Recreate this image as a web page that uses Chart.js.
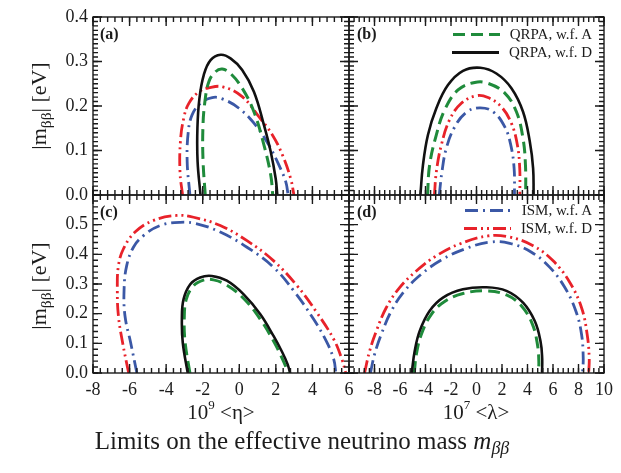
<!DOCTYPE html>
<html>
<head>
<meta charset="utf-8">
<script src="https://cdn.jsdelivr.net/npm/chart.js@4.4.1/dist/chart.umd.min.js"></script>
<style>
  html, body { margin:0; padding:0; background:#fff; }
  #wrap { position:relative; width:621px; height:473px; overflow:hidden; background:#fff;
          font-family:'Liberation Serif','Times New Roman',serif; color:#1c1c1c; }
  #wrap canvas { position:absolute; left:0; top:0; }
  .t { position:absolute; white-space:nowrap; line-height:1; }
  .ytitle { font-size:22px; transform:translate(-50%,-50%) rotate(-90deg); }
  .ytitle sub { font-size:0.7em; vertical-align:-0.35em; line-height:0; }
  .xtitle { font-size:21px; transform:translateX(-50%); }
  .xtitle sup { font-size:0.62em; vertical-align:0.75em; line-height:0; }
  .plabel { font-size:16px; font-weight:bold; }
  .leg { position:absolute; right:29px; display:flex; align-items:center; font-size:15px; line-height:1; transform:translateY(-50%); white-space:nowrap; }
  .leg svg { margin-right:10px; display:block; }
  #title { font-size:25px; transform:translateX(-50%); }
  #title sub { font-size:0.72em; vertical-align:-0.3em; line-height:0; }
</style>
</head>
<body>
<div id="wrap">
  <canvas id="cA" width="621" height="473"></canvas>
  <canvas id="cB" width="621" height="473"></canvas>
  <canvas id="cC" width="621" height="473"></canvas>
  <canvas id="cD" width="621" height="473"></canvas>

  <div class="t ytitle" style="left:39px;top:106px;">|m<sub>ββ</sub>| [eV]</div>
  <div class="t ytitle" style="left:39px;top:286px;">|m<sub>ββ</sub>| [eV]</div>

  <div class="t plabel" style="left:100px;top:26px;">(a)</div>
  <div class="t plabel" style="left:357px;top:26px;">(b)</div>
  <div class="t plabel" style="left:100px;top:204px;">(c)</div>
  <div class="t plabel" style="left:357px;top:204px;">(d)</div>

  <div id="legB"></div>
  <div id="legD"></div>

  <div class="t xtitle" style="left:221px;top:402px;">10<sup>9</sup> &lt;η&gt;</div>
  <div class="t xtitle" style="left:476px;top:402px;">10<sup>7</sup> &lt;λ&gt;</div>

  <div class="t" id="title" style="left:302px;top:428px;">Limits on the effective neutrino mass <i>m</i><sub><i>ββ</i></sub></div>
</div>

<script>
// ---------------- data ----------------
const etaTickLabels    = [-8, -6, -4, -2, 0, 2, 4, 6];
const lambdaTickLabels = [-8, -6, -4, -2, 0, 2, 4, 6, 8, 10];
const mTopTickLabels    = [0.0, 0.1, 0.2, 0.3, 0.4];
const mBottomTickLabels = [0.0, 0.1, 0.2, 0.3, 0.4, 0.5];
const seriesNames = ['QRPA, w.f. D', 'QRPA, w.f. A', 'ISM, w.f. A', 'ISM, w.f. D'];

// panel (a): 10^9 <eta>, [x, |m_bb|]
const a_qrpaD = [[-2.12,0],[-2.28,0.075],[-2.29,0.15],[-2.18,0.217],[-1.94,0.27],[-1.57,0.303],[-1.02,0.315],[-0.48,0.307],[0.16,0.281],[0.80,0.232],[1.35,0.157],[1.72,0.097],[1.99,0.037],[2.08,0]];
const a_qrpaA = [[-1.86,0],[-1.98,0.075],[-1.99,0.15],[-1.88,0.21],[-1.66,0.255],[-1.30,0.277],[-0.93,0.283],[-0.48,0.273],[0.16,0.24],[0.80,0.187],[1.35,0.112],[1.72,0.045],[1.83,0]];
const a_ismA  = [[-2.70,0],[-2.85,0.075],[-2.79,0.142],[-2.58,0.18],[-2.12,0.206],[-1.48,0.219],[-0.93,0.216],[-0.02,0.195],[0.89,0.157],[1.62,0.112],[2.17,0.067],[2.54,0.03],[2.67,0]];
const a_ismD  = [[-3.10,0],[-3.24,0.05],[-3.22,0.12],[-3.04,0.172],[-2.76,0.206],[-2.21,0.232],[-1.67,0.241],[-0.90,0.243],[0.16,0.221],[1.07,0.176],[1.81,0.135],[2.36,0.09],[2.81,0.037],[2.99,0]];

// panel (b): 10^7 <lambda>
const b_qrpaD = [[-4.40,0],[-4.20,0.067],[-3.81,0.135],[-3.15,0.195],[-2.24,0.247],[-1.06,0.279],[0.30,0.286],[1.56,0.273],[2.74,0.24],[3.65,0.187],[4.18,0.12],[4.44,0.06],[4.48,0]];
const b_qrpaA = [[-3.84,0],[-3.68,0.067],[-3.15,0.135],[-2.50,0.191],[-1.45,0.236],[-0.14,0.253],[0.90,0.251],[2.22,0.229],[3.13,0.187],[3.65,0.127],[3.84,0.067],[3.86,0]];
const b_ismA  = [[-2.92,0],[-2.71,0.052],[-2.37,0.105],[-1.71,0.153],[-0.79,0.186],[0.25,0.196],[1.30,0.187],[2.22,0.153],[2.69,0.112],[2.95,0.06],[2.98,0]];
const b_ismD  = [[-3.30,0],[-3.15,0.052],[-2.76,0.112],[-2.11,0.169],[-1.19,0.206],[-0.01,0.223],[0.90,0.219],[1.95,0.198],[2.74,0.161],[3.21,0.112],[3.39,0.06],[3.40,0]];

// panel (c): 10^9 <eta>
const c_qrpaD = [[-2.82,0],[-3.09,0.102],[-3.14,0.181],[-3.05,0.248],[-2.68,0.299],[-2.14,0.322],[-1.50,0.327],[-0.68,0.311],[0.24,0.265],[1.15,0.198],[1.88,0.124],[2.35,0.07],[2.64,0.03],[2.78,0]];
const c_qrpaA = [[-2.70,0],[-2.96,0.102],[-3.01,0.181],[-2.90,0.248],[-2.50,0.294],[-1.96,0.313],[-1.41,0.314],[-0.68,0.296],[0.24,0.251],[1.15,0.181],[1.88,0.107],[2.28,0.058],[2.54,0.022],[2.66,0]];
const c_ismA  = [[-5.60,0],[-5.94,0.102],[-6.25,0.192],[-6.30,0.282],[-6.16,0.361],[-5.79,0.424],[-5.24,0.463],[-4.33,0.497],[-3.23,0.508],[-2.32,0.503],[-1.04,0.475],[0.42,0.424],[1.88,0.356],[2.98,0.277],[4.07,0.181],[4.80,0.102],[5.17,0.045],[5.28,0]];
const c_ismD  = [[-6.05,0],[-6.38,0.102],[-6.61,0.192],[-6.67,0.282],[-6.61,0.361],[-6.34,0.418],[-5.70,0.475],[-4.70,0.514],[-3.42,0.531],[-2.50,0.525],[-1.04,0.497],[0.42,0.446],[1.88,0.378],[3.16,0.294],[4.25,0.203],[5.17,0.113],[5.62,0.045],[5.82,0]];

// panel (d): 10^7 <lambda>
const d_qrpaD = [[-5.08,0],[-4.85,0.073],[-4.46,0.141],[-3.68,0.209],[-2.63,0.254],[-1.06,0.282],[0.78,0.289],[2.35,0.277],[3.65,0.237],[4.57,0.175],[5.02,0.107],[5.15,0.051],[5.14,0]];
const d_qrpaA = [[-4.88,0],[-4.72,0.062],[-4.33,0.13],[-3.54,0.198],[-2.50,0.241],[-1.06,0.268],[0.78,0.277],[2.35,0.263],[3.53,0.226],[4.39,0.164],[4.78,0.096],[4.89,0.039],[4.86,0]];
const d_ismA  = [[-8.32,0],[-8.00,0.062],[-7.47,0.13],[-6.68,0.209],[-5.64,0.277],[-4.33,0.333],[-2.76,0.381],[-0.93,0.418],[1.04,0.441],[2.61,0.437],[4.31,0.407],[5.75,0.356],[6.93,0.288],[7.79,0.209],[8.24,0.13],[8.37,0.051],[8.32,0]];
const d_ismD  = [[-8.78,0],[-8.39,0.073],[-7.86,0.141],[-7.08,0.22],[-6.03,0.288],[-4.72,0.344],[-3.15,0.395],[-1.32,0.435],[0.90,0.462],[2.61,0.458],[4.44,0.429],[6.01,0.378],[7.32,0.305],[8.24,0.22],[8.68,0.13],[8.84,0.051],[8.80,0]];

// ---------------- styles ----------------
const FONT = "'Liberation Serif','Times New Roman',serif";
const styles = {
  'QRPA, w.f. A': { color:'#1f8b3b', dash:[12,6],             width:3.0 },
  'QRPA, w.f. D': { color:'#111111', dash:[],                 width:2.6 },
  'ISM, w.f. A':  { color:'#3b58a6', dash:[13,5,2,5],         width:2.8 },
  'ISM, w.f. D':  { color:'#e8222a', dash:[13,4,2,4,2,4],     width:2.8 }
};

// frame + inward major/minor ticks on all four sides, placed through the chart's scales
function makeFrameTicks(t) {
  return {
    id: 'frameTicks',
    afterDraw(chart) {
      const ctx = chart.ctx, a = chart.chartArea;
      const xs = chart.scales.x, ys = chart.scales.y;
      ctx.save();
      ctx.setLineDash([]);
      ctx.strokeStyle = '#1a1a1a';
      ctx.lineWidth = 1.4;
      const draw = (horiz, step, len) => {
        const lo = horiz ? t.xmin : t.ymin, hi = horiz ? t.xmax : t.ymax;
        const n = Math.round((hi - lo) / step);
        for (let i = 0; i <= n; i++) {
          const v = lo + i * step;
          ctx.beginPath();
          if (horiz) {
            const p = xs.getPixelForValue(v);
            ctx.moveTo(p, a.bottom); ctx.lineTo(p, a.bottom - len);
            ctx.moveTo(p, a.top);    ctx.lineTo(p, a.top + len);
          } else {
            const p = ys.getPixelForValue(v);
            ctx.moveTo(a.left, p);  ctx.lineTo(a.left + len, p);
            ctx.moveTo(a.right, p); ctx.lineTo(a.right - len, p);
          }
          ctx.stroke();
        }
      };
      draw(true, t.xMinor, 5);
      draw(true, t.xMajor, 9);
      draw(false, t.yMinor, 5);
      draw(false, t.yMajor, 9);
      ctx.lineWidth = 1.4;
      ctx.strokeRect(a.left, a.top, a.right - a.left, a.bottom - a.top);
      ctx.restore();
    }
  };
}

const has = (list, v) => list.some(l => Math.abs(l - v) < 1e-9);

function panel(id, curves, o) {
  return new Chart(document.getElementById(id), {
    type: 'scatter',
    data: {
      datasets: curves.map((pts, i) => {
        const name = seriesNames[i], s = styles[name];
        return {
          label: name,
          data: pts.map(([x, y]) => ({ x, y })),
          showLine: true, pointRadius: 0, pointHoverRadius: 0, fill: false,
          tension: 0.4, borderColor: s.color, backgroundColor: s.color,
          borderWidth: s.width, borderDash: s.dash, borderCapStyle: 'butt', borderJoinStyle: 'round'
        };
      })
    },
    options: {
      responsive: false, animation: false, events: [],
      layout: { padding: o.pad },
      plugins: { legend: { display: false }, tooltip: { enabled: false } },
      scales: {
        x: {
          type: 'linear', min: o.xmin, max: o.xmax, display: o.showX,
          grid: { display: false, drawTicks: false }, border: { display: false },
          ticks: { stepSize: 2, autoSkip: false, maxRotation: 0, padding: 6, color: '#1c1c1c',
                   font: { family: FONT, size: 18 },
                   callback: v => has(o.xLabels, v) ? String(v) : '' },
          afterFit: s => { s.height = o.showX ? 30 : 0; }
        },
        y: {
          type: 'linear', min: o.ymin, max: o.ymax, display: o.showY,
          grid: { display: false, drawTicks: false }, border: { display: false },
          ticks: { stepSize: 0.1, autoSkip: false, padding: 5, color: '#1c1c1c',
                   font: { family: FONT, size: 18 },
                   callback: v => has(o.yLabels, v) ? v.toFixed(1) : '' },
          afterFit: s => { s.width = o.showY ? 93 : 0; }
        }
      }
    },
    plugins: [makeFrameTicks({ xmin:o.xmin, xmax:o.xmax, ymin:o.ymin, ymax:o.ymax,
                               xMajor:2, xMinor:0.4, yMajor:0.1, yMinor:o.yMinor })]
  });
}

panel('cA', [a_qrpaD, a_qrpaA, a_ismA, a_ismD],
  { xmin:-8, xmax:6, ymin:0, ymax:0.4, yMinor:0.01, showX:false, showY:true,
    xLabels: etaTickLabels, yLabels: mTopTickLabels,
    pad: { left:0, top:17, right:272, bottom:278 } });
panel('cB', [b_qrpaD, b_qrpaA, b_ismA, b_ismD],
  { xmin:-10, xmax:10, ymin:0, ymax:0.4, yMinor:0.01, showX:false, showY:false,
    xLabels: lambdaTickLabels, yLabels: mTopTickLabels,
    pad: { left:349, top:17, right:17, bottom:278 } });
panel('cC', [c_qrpaD, c_qrpaA, c_ismA, c_ismD],
  { xmin:-8, xmax:6, ymin:0, ymax:0.6, yMinor:0.02, showX:true, showY:true,
    xLabels: etaTickLabels, yLabels: mBottomTickLabels,
    pad: { left:0, top:195, right:272, bottom:70 } });
panel('cD', [d_qrpaD, d_qrpaA, d_ismA, d_ismD],
  { xmin:-10, xmax:10, ymin:0, ymax:0.6, yMinor:0.02, showX:true, showY:false,
    xLabels: lambdaTickLabels, yLabels: mBottomTickLabels,
    pad: { left:349, top:195, right:17, bottom:70 } });

// ---------------- legends (HTML, built from the series) ----------------
function legend(el, names, centers) {
  el.innerHTML = names.map((name, i) => {
    const s = styles[name];
    return `<div class="leg" style="top:${centers[i]}px;">` +
      `<svg width="47" height="6"><line x1="0" y1="3" x2="47" y2="3" stroke="${s.color}" stroke-width="3" stroke-dasharray="${s.dash.length ? s.dash.join(' ') : 'none'}"/></svg>` +
      `<span>${name}</span></div>`;
  }).join('');
}
legend(document.getElementById('legB'), ['QRPA, w.f. A', 'QRPA, w.f. D'], [34, 52]);
legend(document.getElementById('legD'), ['ISM, w.f. A', 'ISM, w.f. D'], [210, 228]);
</script>
</body>
</html>
